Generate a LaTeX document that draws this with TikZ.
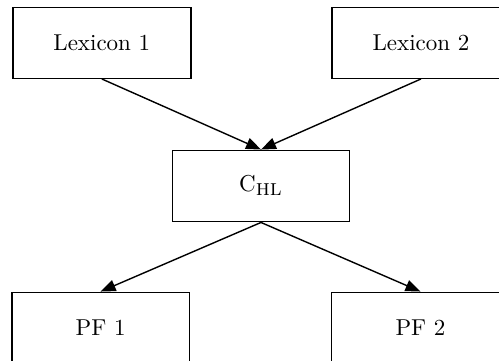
\documentclass[tikz,border=0pt]{standalone}
\usepackage{graphicx}
\usetikzlibrary{arrows.meta}
% labels are set at 10pt and enlarged, keeping the 10pt design of the font
\newcommand{\boxlabel}[1]{\scalebox{2.3}{#1}}
\begin{document}
\begin{tikzpicture}[x=1pt,y=-1pt,
  box/.style={draw,line width=1.4pt,rectangle,inner sep=0pt,
    minimum width=178pt,minimum height=70.5pt},
  link/.style={line width=1.4pt,-{Triangle[length=15pt,width=11.5pt]}}]
  \useasboundingbox (0,0) rectangle (499,360);
  \node[box] (lex1) at (101.8,43) {\boxlabel{Lexicon 1}};
  \node[box] (lex2) at (421,43) {\boxlabel{Lexicon 2}};
  \node[box,minimum height=71.5pt,minimum width=177pt] (chl) at (261,186)
    {\boxlabel{$\mathrm{C}_{\textsc{hl}}$}};
  \node[box,minimum width=177.5pt] (pf1) at (100.6,327.5) {\boxlabel{PF 1}};
  \node[box,minimum width=177.5pt] (pf2) at (420.5,327.5) {\boxlabel{PF 2}};
  \draw[link] (lex1.south) -- (chl.north);
  \draw[link] (lex2.south) -- (chl.north);
  \draw[link] (chl.south) -- (pf1.north);
  \draw[link] (chl.south) -- (pf2.north);
\end{tikzpicture}
\end{document}
